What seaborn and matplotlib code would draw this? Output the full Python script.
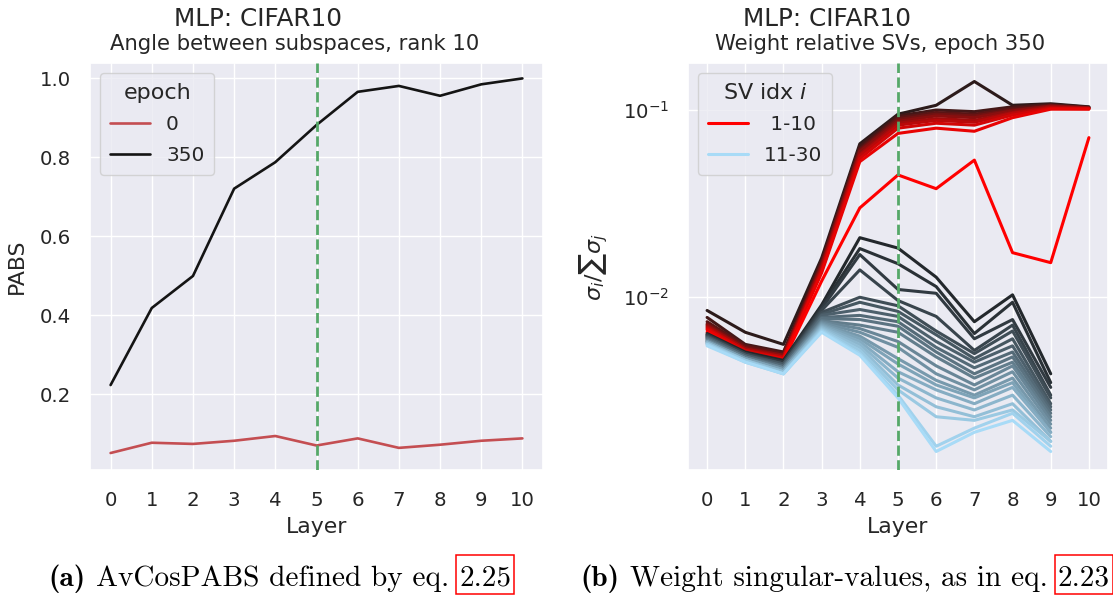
import matplotlib
matplotlib.use("Agg")
import matplotlib.pyplot as plt
from matplotlib.lines import Line2D
from matplotlib.patches import Rectangle
from matplotlib.transforms import IdentityTransform
import numpy as np
import pandas as pd
import seaborn as sns

# ---------------- data ----------------
layers = list(range(11))
epochs = ["0", "350"]
pabs_epoch0 = [0.051, 0.077, 0.074, 0.082, 0.094, 0.070, 0.088, 0.064, 0.072, 0.082, 0.088]
pabs_epoch350 = [0.223, 0.418, 0.499, 0.720, 0.787, 0.881, 0.965, 0.980, 0.955, 0.984, 0.999]

# relative singular values sigma_i / sum sigma_j, SV idx 1..10 (rows), layers 0..10 (cols)
sv1_10 = [
    [0.0085, 0.0065, 0.0056, 0.0162, 0.066, 0.095, 0.106, 0.142, 0.106, 0.108, 0.104],
    [0.0078, 0.0056, 0.0051, 0.0157, 0.064, 0.093, 0.100, 0.098, 0.104, 0.107, 0.1035],
    [0.0074, 0.0055, 0.0050, 0.0153, 0.062, 0.091, 0.097, 0.095, 0.102, 0.106, 0.103],
    [0.0072, 0.0054, 0.0049, 0.0150, 0.061, 0.089, 0.095, 0.093, 0.100, 0.105, 0.103],
    [0.0071, 0.0053, 0.0049, 0.0147, 0.060, 0.087, 0.093, 0.091, 0.099, 0.105, 0.1025],
    [0.0070, 0.0053, 0.0048, 0.0144, 0.058, 0.085, 0.090, 0.088, 0.097, 0.104, 0.102],
    [0.0069, 0.0052, 0.0048, 0.0141, 0.057, 0.083, 0.088, 0.086, 0.096, 0.103, 0.102],
    [0.0068, 0.0052, 0.0047, 0.0138, 0.055, 0.080, 0.085, 0.083, 0.094, 0.102, 0.1015],
    [0.0067, 0.0051, 0.0047, 0.0135, 0.053, 0.075, 0.080, 0.077, 0.091, 0.101, 0.101],
    [0.0065, 0.0051, 0.0046, 0.0122, 0.030, 0.045, 0.038, 0.054, 0.0173, 0.0153, 0.0712],
]
# SV idx 11..30, listed per layer 0..9 (each row: idx 11 -> 30)
sv11_30_by_layer = [
    [0.0064, 0.0063, 0.0063, 0.0062, 0.0062, 0.0061, 0.0061, 0.0060, 0.0060, 0.0059,
     0.0059, 0.0058, 0.0058, 0.0058, 0.0057, 0.0057, 0.0057, 0.0056, 0.0056, 0.0055],
    [0.0051, 0.0050, 0.0050, 0.0050, 0.0049, 0.0049, 0.0049, 0.0048, 0.0048, 0.0048,
     0.0047, 0.0047, 0.0047, 0.0047, 0.0046, 0.0046, 0.0046, 0.0046, 0.0045, 0.0045],
    [0.0046, 0.0045, 0.0045, 0.0044, 0.0044, 0.0044, 0.0043, 0.0043, 0.0042, 0.0042,
     0.0042, 0.0041, 0.0041, 0.0041, 0.0040, 0.0040, 0.0040, 0.0039, 0.0039, 0.0039],
    [0.0091, 0.0089, 0.0087, 0.0085, 0.0083, 0.0081, 0.0080, 0.0078, 0.0077, 0.0075,
     0.0074, 0.0073, 0.0072, 0.0071, 0.0070, 0.0069, 0.0068, 0.0067, 0.0066, 0.0065],
    [0.0208, 0.0182, 0.0169, 0.0140, 0.0100, 0.0094, 0.0086, 0.0080, 0.0076, 0.0071,
     0.0068, 0.0065, 0.0062, 0.0060, 0.0058, 0.0056, 0.0054, 0.0052, 0.0050, 0.0049],
    [0.0183, 0.0151, 0.0110, 0.0096, 0.0090, 0.0084, 0.0079, 0.0074, 0.0070, 0.0065,
     0.0058, 0.0054, 0.0047, 0.0044, 0.0040, 0.0037, 0.0034, 0.0032, 0.0030, 0.0029],
    [0.0128, 0.0114, 0.0105, 0.0079, 0.0066, 0.0063, 0.0058, 0.0054, 0.0051, 0.0048,
     0.0043, 0.0039, 0.0036, 0.0034, 0.0032, 0.0029, 0.0026, 0.0023, 0.0016, 0.0015],
    [0.0074, 0.0064, 0.0060, 0.0052, 0.0050, 0.0047, 0.0045, 0.0042, 0.0039, 0.0037,
     0.0034, 0.0032, 0.0030, 0.0029, 0.0027, 0.0025, 0.0023, 0.0022, 0.0020, 0.0019],
    [0.0103, 0.0094, 0.0076, 0.0071, 0.0066, 0.0060, 0.0055, 0.0051, 0.0048, 0.0045,
     0.0043, 0.0040, 0.0037, 0.0035, 0.0033, 0.0030, 0.0027, 0.0025, 0.0024, 0.0022],
    [0.0039, 0.0035, 0.0033, 0.0030, 0.0029, 0.0027, 0.0026, 0.0025, 0.0024, 0.0023,
     0.0022, 0.0021, 0.0020, 0.0019, 0.0019, 0.0018, 0.0017, 0.0017, 0.0016, 0.0015],
]
legend_labels_sv = [" 1-10", "11-30"]

# ---------------- style ----------------
sns.set_theme(style="darkgrid")
plt.rcParams.update({
    "font.family": ["DejaVu Sans"],
    "xtick.labelsize": 14.2, "ytick.labelsize": 14.2,
    "axes.labelsize": 15.8,
    "legend.fontsize": 14.4, "legend.title_fontsize": 16,
    "legend.borderpad": 0.5, "legend.labelspacing": 0.6,
    "legend.handlelength": 2.0,
    "xtick.major.pad": 15, "ytick.major.pad": 13.7,
    "xtick.major.size": 0, "ytick.major.size": 0,
    "xtick.minor.size": 0, "ytick.minor.size": 0,
})

W, H = 1113, 596
fig = plt.figure(figsize=(W / 100, H / 100), dpi=100)
axL = fig.add_axes([90 / W, 1 - 470 / H, 453 / W, 407 / H])
axR = fig.add_axes([688 / W, 1 - 470 / H, 420 / W, 407 / H])
green = "#55a868"

# ---------------- left panel ----------------
df_pabs = pd.DataFrame({
    "Layer": layers * 2,
    "PABS": pabs_epoch0 + pabs_epoch350,
    "epoch": [epochs[0]] * len(layers) + [epochs[1]] * len(layers),
})
sns.lineplot(data=df_pabs, x="Layer", y="PABS", hue="epoch",
             palette={"0": "#c44e52", "350": "#141414"}, lw=1.9, ax=axL)
axL.axvline(5, color=green, ls="--", lw=2, zorder=5)
axL.set_xticks(layers)
axL.set_ylim(0.008, 1.038)
axL.set_yticks([0.2, 0.4, 0.6, 0.8, 1.0])
axL.legend(title="epoch", loc="upper left")
axL.xaxis.set_label_coords(0.5, -0.1155)
axL.yaxis.set_label_coords(-0.139, 0.5)

# ---------------- right panel ----------------
rows = []
for i, vals in enumerate(sv1_10):
    for l, v in zip(layers, vals):
        rows.append((l, v, i + 1))
for l, col in enumerate(sv11_30_by_layer):
    for j, v in enumerate(col):
        rows.append((l, v, 11 + j))
df_sv = pd.DataFrame(rows, columns=["Layer", "rel", "sv"])
pal_top = sns.blend_palette(["#2c1b1b", "#ff0000"], 10)
pal_tail = sns.blend_palette(["#23282c", "#a8dbf7"], 20)
palette = {k + 1: c for k, c in enumerate(list(pal_top) + list(pal_tail))}
sns.lineplot(data=df_sv, x="Layer", y="rel", hue="sv", palette=palette,
             lw=2.2, legend=False, ax=axR)
axR.set_yscale("log")
axR.axvline(5, color=green, ls="--", lw=2, zorder=50)
axR.set_xticks(layers)
axR.set_ylabel(r"$\sigma_i/\sum\sigma_j$", fontsize=16)
axR.set_xlabel("Layer")
handles = [Line2D([], [], color=pal_top[-1], lw=2.2), Line2D([], [], color=pal_tail[-1], lw=2.2)]
axR.legend(handles, legend_labels_sv, title="SV idx $i$", loc="upper left")
axR.xaxis.set_label_coords(0.5, -0.1155)
axR.yaxis.set_label_coords(-0.186, 0.5)

# ---------------- titles ----------------
fig.text(258 / W, 1 - 26 / H, "MLP: CIFAR10", ha="center", va="baseline", fontsize=17.8, color=".15")
fig.text(295 / W, 1 - 50 / H, "Angle between subspaces, rank 10", ha="center", va="baseline", fontsize=15.2, color=".15")
fig.text(827 / W, 1 - 26 / H, "MLP: CIFAR10", ha="center", va="baseline", fontsize=17.8, color=".15")
fig.text(880 / W, 1 - 50 / H, "Weight relative SVs, epoch 350", ha="center", va="baseline", fontsize=15.2, color=".15")

# ---------------- captions ----------------
renderer = fig.canvas.get_renderer()


def caption(x0, y_base, parts, size, draw=True):
    x = x0
    made = []
    last_bb = None
    for k, (s, fam) in enumerate(parts):
        t = fig.text(x, y_base, s, transform=IdentityTransform(), fontsize=size,
                     family=fam, va="baseline", ha="left", color="black")
        bb = t.get_window_extent(renderer)
        made.append(t)
        last_bb = bb
        x = bb.x1 + 0.36 * size * 100 / 72
    if not draw:
        for t in made:
            t.remove()
        return last_bb.x1 - x0
    # red link box around the last part
    em = size * 100 / 72
    x0b, x1b = last_bb.x0 - 3, last_bb.x1 + 3
    y0b, y1b = y_base - 0.28 * em, y_base + 1.05 * em
    fig.patches.append(Rectangle((x0b, y0b), x1b - x0b, y1b - y0b, transform=IdentityTransform(),
                                 fill=False, ec="#ff0000", lw=1.1))
    return last_bb.x1 - x0


cap_a = [("(a)", "cmb10"), ("AvCosPABS defined by eq.", "cmr10"), ("2.25", "cmr10")]
cap_b = [("(b)", "cmb10"), ("Weight singular-values, as in eq.", "cmr10"), ("2.23", "cmr10")]
w20 = caption(48, 10, cap_a, 20, draw=False)
size = 20 * (510 - 48) / w20
y_cap = H - 586
caption(48, y_cap, cap_a, size)
caption(580, y_cap, cap_b, size)

fig.savefig("out.png", dpi=100)
